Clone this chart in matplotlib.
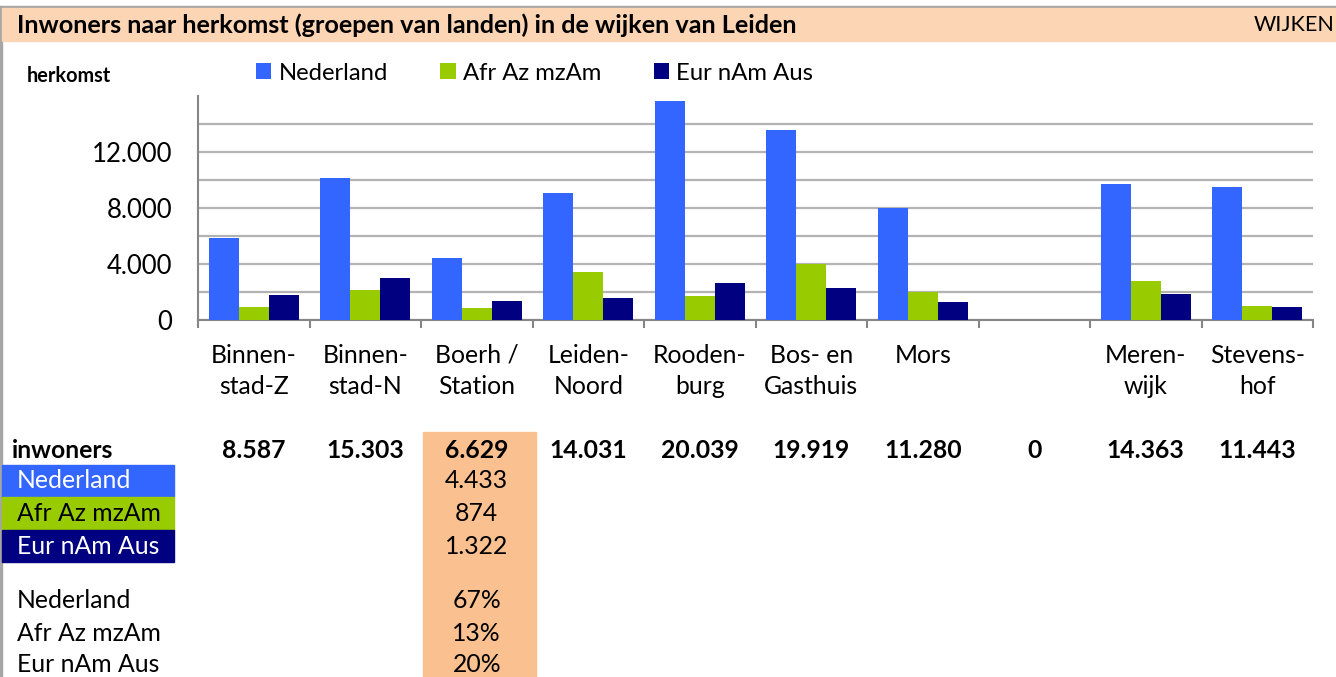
import matplotlib
matplotlib.use('Agg')
import matplotlib.pyplot as plt
import matplotlib.transforms as mtransforms
from matplotlib.patches import Rectangle
import numpy as np

plt.rcParams['font.family'] = ['Lato', 'DejaVu Sans']

wijken = ['Binnen-\nstad-Z', 'Binnen-\nstad-N', 'Boerh /\nStation', 'Leiden-\nNoord',
          'Rooden-\nburg', 'Bos- en\nGasthuis', 'Mors', '', 'Meren-\nwijk', 'Stevens-\nhof']
inwoners = ['8.587', '15.303', '6.629', '14.031', '20.039', '19.919', '11.280', '0', '14.363', '11.443']
nederland = [5890, 10110, 4433, 9060, 15650, 13600, 7990, 0, 9750, 9500]
afr_az = [910, 2170, 874, 3400, 1750, 4000, 1990, 0, 2790, 1030]
eur_nam = [1787, 3023, 1322, 1571, 2639, 2319, 1300, 0, 1823, 913]
series = ['Nederland', 'Afr Az mzAm', 'Eur nAm Aus']
colors = ['#3366FF', '#99CC00', '#000080']
sel_values = ['4.433', '874', '1.322']
sel_pct = ['67%', '13%', '20%']
sel_idx = 2

W, H = 1336, 677
FS = 17.8
fig = plt.figure(figsize=(W / 100, H / 100), dpi=100)


def fx(x):
    return x / W


def fy(y):
    return 1 - y / H


# frame and title band
fig.patches.append(Rectangle((0, fy(8)), 1, fy(6) - fy(8), transform=fig.transFigure,
                             color='#A6A6A6', zorder=0))
fig.patches.append(Rectangle((0, fy(677)), fx(1.5), fy(6) - fy(677), transform=fig.transFigure,
                             color='#A6A6A6', zorder=0))
fig.patches.append(Rectangle((fx(1.5), fy(41)), 1, fy(8) - fy(41), transform=fig.transFigure,
                             color='#FCD5B4', zorder=0))
fig.text(fx(17), fy(25), 'Inwoners naar herkomst (groepen van landen) in de wijken van Leiden',
         fontsize=18.2, fontweight='bold', va='center', ha='left')
fig.text(fx(1335), fy(25), 'WIJKEN', fontsize=15.5, va='center', ha='right')
fig.text(fx(27), fy(76), 'herkomst', fontsize=14.3, fontweight='bold', va='center', ha='left')

# chart
ax = fig.add_axes([fx(198), fy(320), fx(1313) - fx(198), fy(96) - fy(320)])
x = np.arange(len(wijken)) + 0.5
w = 0.269
data = [nederland, afr_az, eur_nam]
handles = []
for k, (vals, c, name) in enumerate(zip(data, colors, series)):
    b = ax.bar(x + (k - 1) * w, vals, width=w, color=c, label=name, zorder=3)
    handles.append(b)

ax.set_xlim(0, len(wijken))
ax.set_ylim(0, 16000)
ax.set_yticks(np.arange(0, 16000, 2000))
ax.set_yticklabels(['0' if v == 0 else (f'{v:,}'.replace(',', '.') if v % 4000 == 0 else '')
                    for v in range(0, 16000, 2000)])
ax.yaxis.grid(True, color='#B3B3B3', linewidth=1.6, zorder=0)
ax.tick_params(axis='y', length=0, pad=18.5, labelsize=18.5)
ax.set_xticks(np.arange(0, len(wijken) + 1))
ax.set_xticklabels([])
ax.set_xticks(x, minor=True)
ax.set_xticklabels(wijken, minor=True, fontsize=FS, linespacing=1.42)
ax.tick_params(axis='x', which='major', length=6, width=1.5, color='#868686')
ax.tick_params(axis='x', which='minor', length=0, pad=17)
for s in ['top', 'right']:
    ax.spines[s].set_visible(False)
ax.spines['left'].set_color('#868686')
ax.spines['bottom'].set_color('#868686')
ax.spines['left'].set_linewidth(1.5)
ax.spines['bottom'].set_linewidth(1.5)

ax.legend(handles=handles, loc='center left', bbox_to_anchor=(fx(256), fy(73)),
          bbox_transform=fig.transFigure, ncol=3, frameon=False, fontsize=17.2,
          handlelength=0.64, handleheight=0.64, handletextpad=0.3, columnspacing=2.2,
          borderpad=0, borderaxespad=0)

# table below the chart
tr = mtransforms.blended_transform_factory(ax.transData, fig.transFigure)
fig.patches.append(Rectangle((fx(422.5), fy(677)), fx(536) - fx(422.5), fy(432) - fy(677),
                             transform=fig.transFigure, color='#FAC090', zorder=0))
fig.text(fx(12), fy(450), 'inwoners', fontsize=FS, fontweight='bold', va='center', ha='left')
for xi, t in zip(x, inwoners):
    fig.text(xi, fy(450), t, transform=tr, fontsize=FS, fontweight='bold',
             va='center', ha='center')

row_y = [481, 513.5, 546]
txt_colors = ['white', 'black', 'white']
for ry, name, c, tc, v in zip(row_y, series, colors, txt_colors, sel_values):
    fig.patches.append(Rectangle((fx(1.5), fy(ry + 16.3)), fx(174) - fx(1.5), fy(ry - 16.3) - fy(ry + 16.3),
                                 transform=fig.transFigure, color=c, zorder=0))
    fig.text(fx(17), fy(ry), name, color=tc, fontsize=FS, va='center', ha='left')
    fig.text(x[sel_idx], fy(ry), v, transform=tr, fontsize=FS, va='center', ha='center')

pct_y = [601, 633.5, 665]
for py, name, p in zip(pct_y, series, sel_pct):
    fig.text(fx(17), fy(py), name, fontsize=FS, va='center', ha='left')
    fig.text(x[sel_idx], fy(py), p, transform=tr, fontsize=FS, va='center', ha='center')

fig.savefig('out.png', dpi=100)
